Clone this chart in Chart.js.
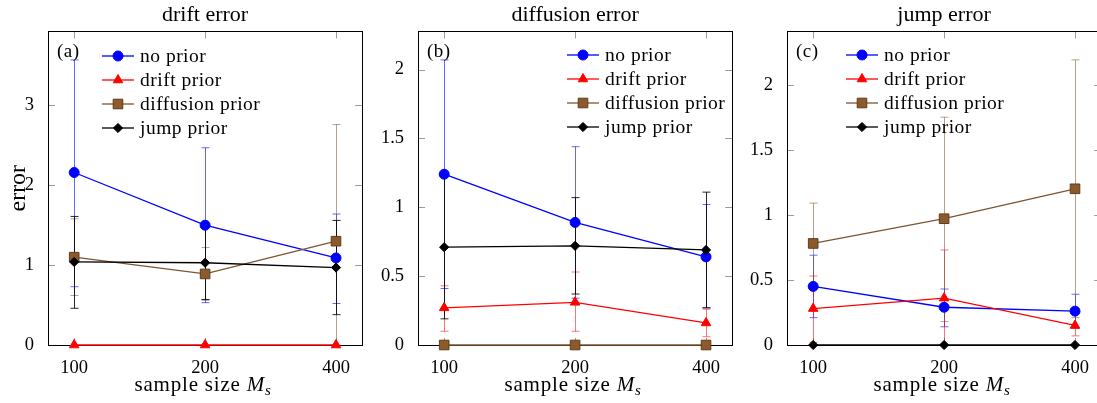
<!DOCTYPE html>
<html>
<head>
<meta charset="utf-8">
<script src="https://cdn.jsdelivr.net/npm/chart.js@4.4.1/dist/chart.umd.min.js"></script>
<style>
  html, body { margin: 0; padding: 0; background: #fff; overflow: hidden; }
  #wrap { position: relative; width: 1097px; height: 403px; overflow: hidden; }
  .panel { position: absolute; top: 0; width: 370px; height: 403px; }
</style>
</head>
<body>
<div id="wrap">
  <div class="panel" style="left:0"><canvas id="cDrift"></canvas></div>
  <div class="panel" style="left:370px"><canvas id="cDiff"></canvas></div>
  <div class="panel" style="left:739px"><canvas id="cJump"></canvas></div>
</div>
<script>
// x categories and series
var sampleSizes = ['100', '200', '400'];
var seriesNames = ['no prior', 'drift prior', 'diffusion prior', 'jump prior'];

// rows follow seriesNames order
var driftMean = [[2.16, 1.50, 1.09], [0, 0, 0], [1.10, 0.89, 1.30], [1.04, 1.03, 0.97]];
var driftHi   = [[3.57, 2.47, 1.64], [0, 0, 0], [1.58, 1.22, 2.76], [1.61, 1.49, 1.56]];
var driftLo   = [[0.73, 0.53, 0.52], [0, 0, 0], [0.62, 0.56, 0.00], [0.46, 0.57, 0.38]];

var diffMean = [[1.24, 0.89, 0.64], [0.27, 0.31, 0.16], [0, 0, 0], [0.71, 0.72, 0.69]];
var diffHi   = [[2.07, 1.44, 1.02], [0.43, 0.53, 0.26], [0, 0, 0], [1.23, 1.07, 1.11]];
var diffLo   = [[0.41, 0.34, 0.27], [0.10, 0.10, 0.06], [0, 0, 0], [0.19, 0.37, 0.27]];

var jumpMean = [[0.45, 0.29, 0.26], [0.28, 0.36, 0.15], [0.78, 0.97, 1.20], [0, 0, 0]];
var jumpHi   = [[0.69, 0.43, 0.39], [0.53, 0.73, 0.24], [1.09, 1.75, 2.19], [0, 0, 0]];
var jumpLo   = [[0.21, 0.14, 0.13], [0.02, 0.00, 0.07], [0.47, 0.18, 0.21], [0, 0, 0]];

var FONT = "'Liberation Serif', 'DejaVu Serif', serif";

var STYLES = [
  { line: '#0000ff', fill: '#0000ff', edge: '#0000ff', err: 'rgba(0,0,255,0.6)',    point: 'circle',   r: 5 },
  { line: '#ff0000', fill: '#ff0000', edge: '#ff0000', err: 'rgba(255,0,0,0.55)',   point: 'triangle', r: 5.5 },
  { line: '#7b5532', fill: '#8c5a2b', edge: '#5e3d1e', err: 'rgba(120,84,48,0.55)', point: 'rect',     r: 6.8 },
  { line: '#000000', fill: '#000000', edge: '#000000', err: 'rgba(0,0,0,0.85)',     point: 'rectRot',  r: 4.6 },
];

var TICK_LEN = 7;

var pgfFrame = {
  id: 'pgfFrame',
  beforeDatasetsDraw: function (chart) {
    var ctx = chart.ctx, a = chart.chartArea;
    var xs = chart.scales.x, ys = chart.scales.y;
    ctx.save();
    ctx.strokeStyle = '#9a9a9a';
    ctx.lineWidth = 1;
    ctx.beginPath();
    ys.ticks.forEach(function (t) {
      var y = Math.round(ys.getPixelForValue(t.value)) + 0.5;
      ctx.moveTo(a.left, y); ctx.lineTo(a.left + TICK_LEN, y);
      ctx.moveTo(a.right, y); ctx.lineTo(a.right - TICK_LEN, y);
    });
    xs.ticks.forEach(function (t) {
      var x = Math.round(xs.getPixelForValue(t.value)) + 0.5;
      ctx.moveTo(x, a.top); ctx.lineTo(x, a.top + TICK_LEN);
      ctx.moveTo(x, a.bottom); ctx.lineTo(x, a.bottom - TICK_LEN);
    });
    ctx.stroke();
    ctx.strokeStyle = '#000';
    ctx.strokeRect(Math.round(a.left) + 0.5, Math.round(a.top) + 0.5,
      Math.round(a.right - a.left), Math.round(a.bottom - a.top));

    // error bars
    chart.data.datasets.forEach(function (ds) {
      ctx.strokeStyle = ds.errColor;
      ctx.lineWidth = 1;
      ds.data.forEach(function (p, i) {
        var hi = ds.errHi[i], lo = ds.errLo[i];
        if (hi === lo) return;
        var x = Math.round(xs.getPixelForValue(p.x)) + 0.5;
        var yh = ys.getPixelForValue(hi), yl = ys.getPixelForValue(lo);
        ctx.beginPath();
        ctx.moveTo(x, yh); ctx.lineTo(x, yl);
        ctx.moveTo(x - 4, yh); ctx.lineTo(x + 4, yh);
        ctx.moveTo(x - 4, yl); ctx.lineTo(x + 4, yl);
        ctx.stroke();
      });
    });
    ctx.restore();
  },
  afterDraw: function (chart, args, opts) {
    var ctx = chart.ctx, a = chart.chartArea;
    ctx.save();
    ctx.fillStyle = '#000';
    // panel tag
    ctx.font = '19px ' + FONT;
    ctx.letterSpacing = '0.5px';
    ctx.textBaseline = 'middle';
    ctx.textAlign = 'left';
    ctx.fillText(opts.tag, a.left + 9, 52);

    // legend
    ctx.font = '19.5px ' + FONT;
    chart.data.datasets.forEach(function (ds, i) {
      var y = opts.legY + i * 24, x = opts.legX;
      ctx.strokeStyle = ds.borderColor;
      ctx.lineWidth = 1.3;
      ctx.beginPath(); ctx.moveTo(x, y); ctx.lineTo(x + 32, y); ctx.stroke();
      ctx.fillStyle = ds.pointBackgroundColor;
      ctx.strokeStyle = ds.pointBorderColor;
      ctx.lineWidth = 1;
      Chart.helpers.drawPoint(ctx, { pointStyle: ds.pointStyle, radius: ds.pointRadius, borderWidth: 1, rotation: 0 }, x + 16, y);
      ctx.fillStyle = '#000';
      ctx.fillText(ds.label, x + 38, y + 1);
    });

    // x axis label: sample size M_s
    var cx = (a.left + a.right) / 2 - 2, by = 391;
    ctx.textBaseline = 'alphabetic';
    ctx.letterSpacing = '0.8px';
    ctx.font = '21px ' + FONT;
    var t1 = 'sample size ';
    var w1 = ctx.measureText(t1).width;
    ctx.font = 'italic 21px ' + FONT;
    var w2 = ctx.measureText('M').width;
    ctx.font = 'italic 15px ' + FONT;
    var w3 = ctx.measureText('s').width;
    var x0 = cx - (w1 + w2 + w3) / 2;
    ctx.font = '21px ' + FONT;
    ctx.fillText(t1, x0, by);
    ctx.font = 'italic 21px ' + FONT;
    ctx.fillText('M', x0 + w1, by);
    ctx.font = 'italic 15px ' + FONT;
    ctx.fillText('s', x0 + w1 + w2, by + 4);
    ctx.restore();
  }
};

function makePanel(id, title, tag, mean, hi, lo, yStep, legX, legY, rightPad, yTitle) {
  var yMax = Math.max.apply(null, hi.map(function (r) { return Math.max.apply(null, r); })) * 1.1;
  var datasets = seriesNames.map(function (name, k) {
    var s = STYLES[k];
    return {
      label: name,
      data: mean[k].map(function (v, i) { return { x: i, y: v }; }),
      errHi: hi[k],
      errLo: lo[k],
      errColor: s.err,
      borderColor: s.line,
      borderWidth: 1.3,
      pointStyle: s.point,
      pointRadius: s.r,
      pointBackgroundColor: s.fill,
      pointBorderColor: s.edge,
      pointBorderWidth: 1,
      showLine: true,
      clip: false,
      order: seriesNames.length - k,
    };
  });
  return new Chart(document.getElementById(id), {
    type: 'scatter',
    data: { datasets: datasets },
    plugins: [pgfFrame],
    options: {
      responsive: true,
      maintainAspectRatio: false,
      animation: false,
      layout: { padding: { left: 0, right: rightPad, top: 0, bottom: 0 } },
      plugins: {
        legend: { display: false },
        tooltip: { enabled: false },
        title: {
          display: true, text: title, color: '#000', fullSize: false,
          font: { family: FONT, size: 22, weight: 'normal' },
          padding: { top: 2, bottom: 3 },
        },
        pgfFrame: { tag: tag, legX: legX, legY: legY },
      },
      scales: {
        x: {
          type: 'linear', min: -0.2, max: 2.2,
          afterBuildTicks: function (s) { s.ticks = [0, 1, 2].map(function (v) { return { value: v }; }); },
          afterFit: function (s) { s.height = 58; },
          grid: { display: false },
          border: { display: false },
          ticks: {
            color: '#000', padding: 4, maxRotation: 0, autoSkip: false,
            font: { family: FONT, size: 18.5 },
            callback: function (v) { return sampleSizes[v]; },
          },
        },
        y: {
          min: 0, max: yMax,
          afterBuildTicks: function (s) {
            s.ticks = s.ticks.filter(function (t) {
              var q = t.value / yStep;
              return Math.abs(q - Math.round(q)) < 1e-6;
            });
          },
          afterFit: function (s) { s.width = 48; },
          grid: { display: false },
          border: { display: false },
          title: { display: !!yTitle, text: yTitle || '', color: '#000', font: { family: FONT, size: 24 }, padding: { top: 4, bottom: 0 } },
          ticks: {
            color: '#000', padding: 6, stepSize: yStep, font: { family: FONT, size: 18.5 },
            callback: function (v) { return String(Math.round(v * 10) / 10); },
          },
        },
      },
    },
  });
}

makePanel('cDrift', 'drift error', '(a)', driftMean, driftHi, driftLo, 1, 102, 56, 7, 'error');
makePanel('cDiff', 'diffusion error', '(b)', diffMean, diffHi, diffLo, 0.5, 197, 55, 7, null);
makePanel('cJump', 'jump error', '(c)', jumpMean, jumpHi, jumpLo, 0.5, 107, 55, 6, null);
</script>
</body>
</html>
